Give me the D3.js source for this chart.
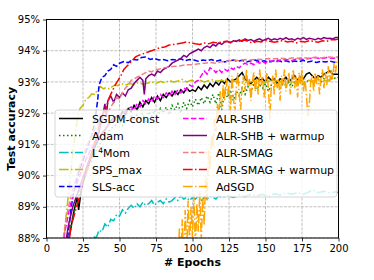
<!DOCTYPE html>
<html>
<head>
<meta charset="utf-8">
<script src="https://cdn.jsdelivr.net/npm/d3@7"></script>
<style>
body { margin: 0; background: #fff; }
text { font-family: "DejaVu Sans", sans-serif; }
</style>
</head>
<body>
<div id="chart"></div>
<script>
// [epoch, test accuracy %]
var sgdmConst = [[14,87.6],[17,88.4],[19,88.9],[21,89.3],[22,88.9],[24,89.6],[27,90.1],[30,90.5],[33,90.9],[36,91.2],[39,91.4],[42,91.6],[45,91.8],[48,91.9],[50,91.85],[52,92.05],[54,91.95],[56,92.15],[58,92.05],[60,92.25],[62,92.1],[64,92.35],[66,92.2],[68,92.4],[70,92.3],[72,92.5],[74,92.35],[76,92.55],[78,92.4],[80,92.6],[82,92.5],[84,92.65],[86,92.55],[88,92.7],[90,92.6],[92,92.75],[94,92.65],[96,92.8],[98,92.7],[100,92.75],[102,92.7],[104,92.85],[106,92.75],[108,92.9],[110,92.8],[112,92.95],[114,92.85],[116,93.0],[118,92.9],[120,93.05],[122,92.95],[124,93.1],[126,93.0],[128,93.05],[130,93.1],[132,93.2],[134,93.3],[136,93.1],[138,93.0],[140,92.95],[142,93.05],[144,93.15],[146,93.05],[148,93.1],[150,93.0],[152,93.15],[154,93.05],[156,93.1],[158,92.95],[160,93.1],[162,93.05],[164,93.15],[166,93.0],[168,93.1],[170,93.2],[172,93.05],[174,93.15],[176,93.1],[178,93.25],[180,93.3],[182,93.2],[184,93.1],[186,93.2],[188,93.15],[190,93.25],[192,93.3],[194,93.35],[196,93.25],[198,93.25],[200,93.25]];
var adam = [[14,87.6],[17,88.5],[20,89.1],[23,89.5],[26,89.9],[29,90.3],[32,90.6],[35,90.9],[38,91.1],[41,91.3],[44,91.5],[47,91.6],[50,91.75],[52,91.6],[54,91.85],[56,91.7],[58,91.9],[60,91.75],[62,91.95],[64,91.8],[66,92.0],[68,91.7],[70,92.05],[72,91.9],[74,92.1],[76,91.85],[78,92.15],[80,92.0],[82,92.2],[84,91.95],[86,92.25],[88,92.1],[90,92.3],[92,92.0],[94,92.35],[96,92.15],[98,92.4],[100,92.2],[102,92.45],[104,92.25],[106,92.5],[108,92.3],[110,92.55],[112,92.35],[114,92.6],[116,92.3],[118,92.65],[120,92.1],[122,92.7],[124,92.5],[126,92.75],[128,92.4],[130,92.7],[132,92.55],[134,92.8],[136,92.6],[138,92.85],[140,92.7],[142,92.9],[144,92.75],[146,92.9],[148,92.8],[150,92.95],[152,92.7],[154,92.9],[156,92.85],[158,93.0],[160,92.8],[162,92.95],[164,92.9],[166,93.0],[168,92.85],[170,93.0],[172,92.95],[174,93.05],[176,92.9],[178,93.05],[180,93.0],[182,93.05],[184,92.95],[186,93.1],[188,93.0],[190,93.1],[192,93.05],[194,93.1],[196,93.15],[198,93.1],[200,93.15]];
var l4mom = [[28,87.6],[30,87.9],[32,88.05],[34,88.0],[36,88.25],[38,88.2],[40,88.45],[42,88.35],[44,88.6],[46,88.55],[48,88.75],[50,88.7],[52,88.9],[54,88.8],[56,88.95],[58,89.05],[60,88.95],[62,89.1],[64,89.0],[66,89.15],[68,89.05],[70,89.1],[72,89.2],[74,89.05],[76,89.15],[78,89.2],[80,89.1],[82,89.25],[84,89.15],[86,89.2],[88,89.3],[90,89.2],[92,89.35],[94,89.25],[96,89.3],[98,89.2],[100,89.3],[102,89.25],[104,89.35],[106,89.2],[108,89.3],[110,89.25],[112,89.35],[114,89.3],[116,89.25],[118,89.35],[120,89.3],[124,89.35],[128,89.3],[132,89.38],[136,89.32],[140,89.4],[144,89.35],[148,89.4],[152,89.33],[156,89.42],[160,89.38],[164,89.44],[168,89.4],[172,89.45],[176,89.4],[180,89.48],[182,89.55],[186,89.45],[190,89.5],[194,89.44],[198,89.48],[200,89.45]];
var spsMax = [[11,87.5],[13,88.5],[15,89.4],[17,90.3],[19,91.1],[21,91.8],[23,92.15],[25,92.25],[27,92.45],[29,92.5],[31,92.62],[33,92.6],[35,92.75],[37,92.85],[39,92.78],[41,92.82],[43,92.78],[45,92.85],[47,92.9],[49,92.88],[51,92.95],[54,92.9],[57,92.95],[60,92.92],[63,92.98],[66,92.93],[69,92.96],[72,93.0],[75,92.95],[78,93.02],[81,92.97],[84,93.05],[87,93.0],[90,93.03],[93,93.08],[96,93.0],[99,93.05],[102,93.02],[105,93.06],[108,93.0],[111,93.04],[114,93.07],[117,93.02],[120,93.05],[124,93.0],[128,93.04],[132,92.98],[136,93.03],[140,93.0],[144,93.05],[148,92.98],[152,93.02],[156,93.05],[160,93.0],[164,93.03],[168,92.98],[172,93.04],[176,93.0],[180,93.05],[184,93.02],[188,93.06],[192,93.03],[196,93.1],[200,93.15]];
var slsAcc = [[13,87.5],[15,88.2],[17,89.0],[19,89.6],[22,90.1],[25,90.5],[28,90.9],[31,91.3],[33,91.7],[35,92.4],[36,92.9],[38,93.15],[40,93.2],[42,93.35],[44,93.4],[46,93.55],[48,93.5],[50,93.6],[53,93.65],[56,93.62],[59,93.72],[62,93.7],[65,93.78],[68,93.8],[71,93.72],[74,93.75],[77,93.7],[80,93.72],[83,93.68],[86,93.72],[89,93.7],[92,93.74],[95,93.68],[98,93.72],[101,93.7],[104,93.66],[107,93.7],[110,93.68],[113,93.72],[116,93.66],[119,93.7],[122,93.64],[125,93.68],[128,93.7],[131,93.66],[134,93.69],[137,93.64],[140,93.68],[143,93.7],[146,93.65],[149,93.68],[152,93.63],[155,93.67],[158,93.7],[161,93.65],[164,93.68],[167,93.63],[170,93.67],[173,93.65],[176,93.69],[179,93.64],[182,93.67],[185,93.62],[188,93.66],[191,93.64],[194,93.67],[197,93.63],[200,93.66]];
var alrShb = [[10,87.5],[13,88.3],[16,89.0],[19,89.5],[22,89.9],[25,90.3],[28,90.6],[31,90.9],[34,91.1],[37,91.3],[40,91.5],[43,91.65],[46,91.8],[49,91.9],[52,92.0],[55,92.1],[58,92.2],[60,92.1],[62,92.3],[64,92.2],[66,92.4],[68,92.3],[70,92.45],[72,92.35],[74,92.55],[76,92.45],[78,92.6],[80,92.5],[82,92.65],[84,92.55],[86,92.7],[88,92.6],[90,92.75],[92,92.65],[94,92.8],[96,92.75],[98,92.9],[100,92.85],[102,93.0],[104,93.05],[106,93.2],[108,93.35],[110,93.25],[112,93.45],[114,93.4],[116,93.3],[118,93.4],[120,93.3],[122,93.4],[124,93.35],[126,93.45],[128,93.4],[130,93.5],[132,93.45],[134,93.55],[136,93.6],[138,93.55],[140,93.6],[142,93.55],[144,93.65],[146,93.6],[148,93.65],[150,93.6],[152,93.7],[154,93.65],[156,93.7],[158,93.65],[160,93.7],[164,93.72],[168,93.68],[172,93.75],[176,93.72],[180,93.75],[184,93.78],[188,93.74],[192,93.78],[196,93.76],[200,93.78]];
var alrShbWarm = [[12,87.5],[15,88.4],[18,89.0],[21,89.4],[24,89.8],[27,90.2],[30,90.6],[33,91.0],[36,91.4],[38,91.8],[40,92.3],[41,91.9],[42,92.4],[44,92.55],[46,92.35],[48,92.6],[50,92.5],[52,92.65],[54,92.55],[56,92.75],[58,92.8],[60,92.95],[62,93.05],[64,93.15],[66,93.05],[67,92.6],[68,93.1],[70,93.2],[72,93.25],[74,93.2],[76,93.35],[78,93.3],[80,93.4],[82,93.45],[84,93.5],[86,93.6],[88,93.65],[90,93.7],[92,93.75],[94,93.85],[96,93.8],[98,93.9],[100,93.95],[102,94.0],[104,94.05],[106,94.0],[108,94.1],[110,94.15],[112,94.1],[114,94.2],[116,94.15],[118,94.25],[120,94.2],[122,94.28],[124,94.3],[126,94.25],[128,94.32],[130,94.3],[132,94.35],[134,94.3],[136,94.38],[138,94.33],[140,94.36],[142,94.3],[144,94.35],[146,94.38],[148,94.32],[150,94.36],[152,94.4],[154,94.34],[156,94.38],[158,94.35],[160,94.4],[162,94.36],[164,94.42],[166,94.36],[168,94.38],[170,94.34],[172,94.4],[174,94.37],[176,94.42],[178,94.36],[180,94.4],[182,94.38],[184,94.35],[186,94.4],[188,94.37],[190,94.42],[192,94.39],[194,94.4],[196,94.38],[198,94.42],[200,94.42]];
var alrSmag = [[10,87.5],[13,88.5],[16,89.2],[19,89.7],[22,90.2],[25,90.6],[28,91.0],[31,91.3],[34,91.55],[37,91.75],[40,91.9],[43,92.1],[46,92.35],[48,92.5],[50,92.45],[52,92.65],[54,92.8],[56,92.9],[58,93.05],[60,93.1],[62,93.15],[64,93.2],[66,93.25],[68,93.3],[70,93.35],[72,93.32],[74,93.38],[76,93.4],[78,93.42],[80,93.45],[84,93.48],[88,93.5],[92,93.52],[96,93.55],[100,93.55],[104,93.58],[108,93.6],[112,93.62],[116,93.6],[120,93.65],[124,93.66],[128,93.7],[132,93.68],[136,93.72],[140,93.7],[144,93.73],[148,93.72],[152,93.75],[156,93.74],[160,93.76],[164,93.74],[168,93.77],[172,93.76],[176,93.78],[180,93.76],[184,93.79],[188,93.77],[192,93.8],[196,93.79],[200,93.8]];
var alrSmagWarm = [[14,87.5],[17,88.4],[20,88.9],[23,89.4],[26,89.9],[29,90.4],[32,90.9],[35,91.4],[37,91.8],[39,92.0],[41,92.2],[43,92.5],[45,92.7],[47,92.9],[49,93.05],[51,93.2],[53,93.4],[55,93.5],[57,93.6],[59,93.7],[61,93.8],[63,93.85],[66,93.9],[69,93.95],[72,94.0],[75,94.05],[78,94.1],[81,94.12],[84,94.18],[87,94.2],[90,94.22],[93,94.25],[96,94.28],[99,94.25],[102,94.22],[105,94.2],[108,94.25],[111,94.22],[114,94.27],[117,94.25],[120,94.28],[123,94.3],[126,94.27],[129,94.32],[132,94.3],[135,94.35],[138,94.3],[141,94.25],[144,94.3],[147,94.28],[150,94.33],[153,94.3],[156,94.27],[159,94.3],[162,94.33],[165,94.28],[168,94.3],[171,94.25],[174,94.3],[177,94.28],[180,94.32],[183,94.3],[186,94.27],[189,94.32],[192,94.3],[195,94.35],[198,94.35],[200,94.38]];
var adSgd = [[90,86.5],[91,88.3],[92,87.2],[93,88.6],[94,87.0],[95,88.9],[96,87.5],[97,89.2],[98,87.8],[99,89.0],[100,88.0],[101,89.4],[102,87.6],[103,89.1],[104,88.2],[105,89.5],[106,87.9],[107,89.3],[108,88.4],[109,90.0],[110,89.2],[111,90.8],[112,90.2],[113,91.3],[114,90.9],[115,91.8],[116,91.4],[117,92.3],[118,91.9],[119,92.7],[120,92.2],[121,92.9],[122,92.4],[123,93.1],[124,92.6],[125,92.9],[126,92.0],[127,93.2],[128,92.5],[129,92.0],[130,92.8],[131,93.3],[132,92.6],[133,92.1],[134,92.9],[135,93.2],[136,92.7],[137,93.4],[138,92.8],[139,93.1],[140,92.4],[141,93.0],[142,93.3],[143,92.7],[144,93.1],[145,92.6],[146,93.4],[147,92.9],[148,93.2],[149,92.5],[150,93.0],[151,93.3],[152,92.8],[153,91.8],[154,92.9],[155,93.2],[156,92.6],[157,93.4],[158,92.8],[159,93.1],[160,92.4],[161,93.2],[162,92.9],[163,93.4],[164,92.7],[165,93.0],[166,93.3],[167,92.6],[168,93.1],[169,93.4],[170,92.8],[171,93.2],[172,92.5],[173,93.3],[174,92.9],[175,93.4],[176,92.7],[177,93.1],[178,92.6],[179,91.9],[180,92.3],[181,93.0],[182,93.2],[183,92.7],[184,93.3],[185,92.9],[186,93.2],[187,92.6],[188,93.1],[189,93.4],[190,92.8],[191,93.3],[192,92.9],[193,93.5],[194,93.0],[195,93.4],[196,93.1],[197,93.6],[198,93.3],[199,93.7],[200,93.75]];

var xTicks = [0, 25, 50, 75, 100, 125, 150, 175, 200];
var yTicks = [88, 89, 90, 91, 92, 93, 94, 95];

// legend order = plot order (column major)
var series = [
    { name: "SGDM-const", data: sgdmConst, colour: "#000000", dash: null },
    { name: "Adam", data: adam, colour: "#008000", dash: "1.5,2.5" },
    { name: "L4Mom", data: l4mom, colour: "#00bfbf", dash: "9.6,2.4,1.5,2.4" },
    { name: "SPS_max", data: spsMax, colour: "#bfbf00", dash: "9.6,2.4,1.5,2.4" },
    { name: "SLS-acc", data: slsAcc, colour: "#0000ff", dash: "5.5,2.4" },
    { name: "ALR-SHB", data: alrShb, colour: "#ff00ff", dash: "5.5,2.4" },
    { name: "ALR-SHB + warmup", data: alrShbWarm, colour: "#800080", dash: null },
    { name: "ALR-SMAG", data: alrSmag, colour: "#f08080", dash: "5.5,2.4" },
    { name: "ALR-SMAG + warmup", data: alrSmagWarm, colour: "#ff0000", dash: "9.6,2.4,1.5,2.4" },
    { name: "AdSGD", data: adSgd, colour: "#ffa500", dash: "9.6,2.4,1.5,2.4" }
];

var width = 374, height = 280;
var plotLeft = 46.5, plotRight = 338.5, plotTop = 19.5, plotBottom = 238;

var svg = d3.select("#chart")
    .append("svg")
    .attr("width", width)
    .attr("height", height);

var x = d3.scaleLinear().domain([0, 200]).range([plotLeft, plotRight]);
var y = d3.scaleLinear().domain([88, 95]).range([plotBottom, plotTop]);

svg.append("clipPath")
    .attr("id", "plotclip")
    .append("rect")
    .attr("x", plotLeft).attr("y", plotTop)
    .attr("width", plotRight - plotLeft).attr("height", plotBottom - plotTop);

// Grid
var grid = svg.append("g");
grid.selectAll(".gx")
    .data(xTicks)
    .enter()
    .append("line")
    .attr("x1", function (d) { return x(d); })
    .attr("x2", function (d) { return x(d); })
    .attr("y1", plotTop).attr("y2", plotBottom)
    .style("stroke", "#b0b0b0").style("stroke-width", 0.8)
    .style("stroke-dasharray", "2.96,1.28");
grid.selectAll(".gy")
    .data(yTicks)
    .enter()
    .append("line")
    .attr("y1", function (d) { return y(d); })
    .attr("y2", function (d) { return y(d); })
    .attr("x1", plotLeft).attr("x2", plotRight)
    .style("stroke", "#b0b0b0").style("stroke-width", 0.8)
    .style("stroke-dasharray", "2.96,1.28");

// Lines
var line = d3.line()
    .x(function (d) { return x(d[0]); })
    .y(function (d) { return y(d[1]); });

svg.append("g")
    .attr("clip-path", "url(#plotclip)")
    .selectAll("path")
    .data(series)
    .enter()
    .append("path")
    .attr("d", function (d) { return line(d.data); })
    .style("fill", "none")
    .style("stroke", function (d) { return d.colour; })
    .style("stroke-width", 1.5)
    .style("stroke-dasharray", function (d) { return d.dash; });

// Axes
var xAxis = svg.append("g")
    .attr("transform", "translate(0," + plotBottom + ")")
    .call(d3.axisBottom(x).tickValues(xTicks).tickSize(3.5).tickPadding(3));
var yAxis = svg.append("g")
    .attr("transform", "translate(" + plotLeft + ",0)")
    .call(d3.axisLeft(y).tickValues(yTicks).tickSize(3.5).tickPadding(3)
        .tickFormat(function (d) { return d + "%"; }));
[xAxis, yAxis].forEach(function (a) {
    a.select(".domain").remove();
    a.selectAll("text")
        .style("font-family", "DejaVu Sans")
        .style("font-size", "10px")
        .style("fill", "#000");
    a.selectAll("line").style("stroke", "#000").style("stroke-width", 0.8);
});

svg.append("rect")
    .attr("x", plotLeft).attr("y", plotTop)
    .attr("width", plotRight - plotLeft).attr("height", plotBottom - plotTop)
    .style("fill", "none").style("stroke", "#000").style("stroke-width", 1);

// Axis titles
svg.append("text")
    .attr("x", (plotLeft + plotRight) / 2).attr("y", 266)
    .attr("text-anchor", "middle")
    .style("font-size", "11px").style("font-weight", "bold")
    .text("# Epochs");
svg.append("text")
    .attr("transform", "translate(15," + (plotTop + plotBottom) / 2 + ") rotate(-90)")
    .attr("text-anchor", "middle")
    .style("font-size", "11px").style("font-weight", "bold")
    .text("Test accuracy");

// Legend
var legend = svg.append("g");
legend.append("rect")
    .attr("x", 55).attr("y", 110)
    .attr("width", 282).attr("height", 87)
    .attr("rx", 3)
    .style("fill", "#fff").style("fill-opacity", 0.8)
    .style("stroke", "#cccccc").style("stroke-width", 0.8);

var item = legend.selectAll(".item")
    .data(series)
    .enter()
    .append("g")
    .attr("transform", function (d, i) {
        var col = Math.floor(i / 5), row = i % 5;
        return "translate(" + (59 + col * 124) + "," + (118.5 + row * 17) + ")";
    });
item.append("line")
    .attr("x1", 0).attr("x2", 24)
    .style("stroke", function (d) { return d.colour; })
    .style("stroke-width", 1.5)
    .style("stroke-dasharray", function (d) { return d.dash; });
item.append("text")
    .attr("x", 33).attr("y", 4)
    .style("font-size", "11px")
    .each(function (d) {
        var t = d3.select(this);
        if (d.name === "L4Mom") {
            t.append("tspan").text("L");
            t.append("tspan").attr("dy", -4).style("font-size", "7.5px").text("4");
            t.append("tspan").attr("dy", 4).text("Mom");
        } else {
            t.text(d.name);
        }
    });
</script>
</body>
</html>
